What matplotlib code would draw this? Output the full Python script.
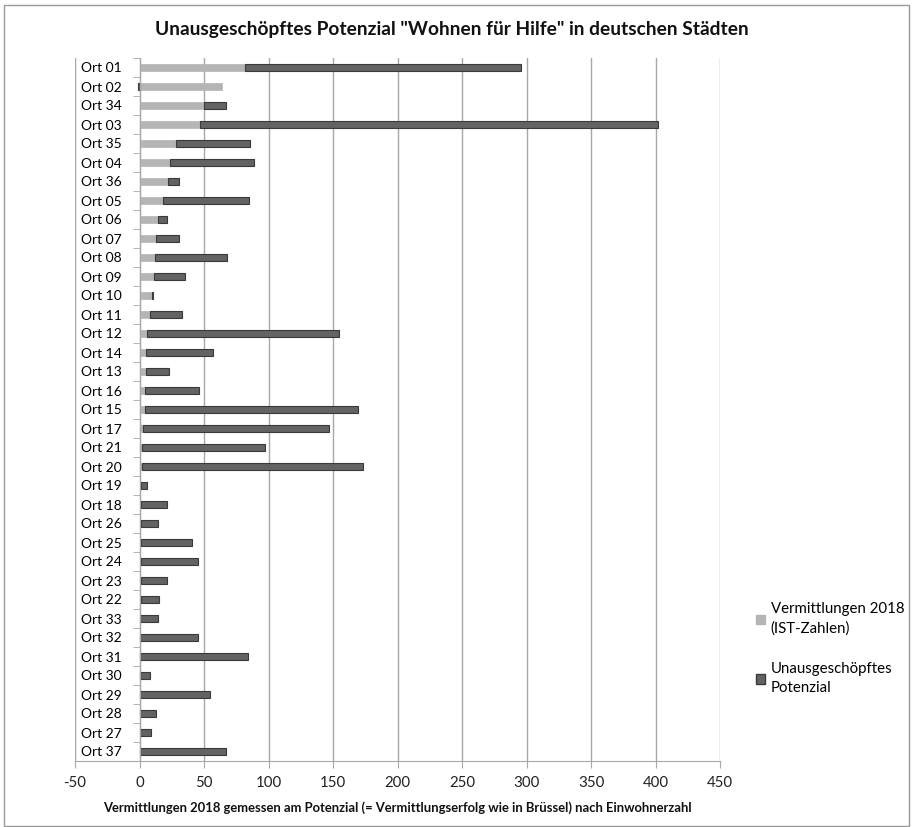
import matplotlib
matplotlib.use("Agg")
import matplotlib.pyplot as plt
from matplotlib.patches import Patch, Rectangle
from matplotlib.ticker import FixedLocator

plt.rcParams['font.family'] = ['Lato', 'DejaVu Sans']

categories = ["Ort 01", "Ort 02", "Ort 34", "Ort 03", "Ort 35", "Ort 04", "Ort 36", "Ort 05",
              "Ort 06", "Ort 07", "Ort 08", "Ort 09", "Ort 10", "Ort 11", "Ort 12", "Ort 14",
              "Ort 13", "Ort 16", "Ort 15", "Ort 17", "Ort 21", "Ort 20", "Ort 19", "Ort 18",
              "Ort 26", "Ort 25", "Ort 24", "Ort 23", "Ort 22", "Ort 33", "Ort 32", "Ort 31",
              "Ort 30", "Ort 29", "Ort 28", "Ort 27", "Ort 37"]

vermittlungen = [82, 64, 50, 47, 28, 24, 22, 18, 14, 13, 12, 11, 10, 8, 6, 5,
                 5, 4, 4, 3, 2, 2, 1.3, 1.5, 1, 1, 1, 1, 1, 0, 0, 0,
                 0, 0, 0, 0, 0]

totals = [296, 63, 67, 402, 86, 89, 31, 85, 21, 31, 68, 35, 10.3, 33, 155, 57,
          23, 46, 169, 147, 97, 173, 6, 21, 14, 41, 45, 21, 15, 14, 45, 84,
          8, 55, 13, 9, 67]

potenzial = [t - v for t, v in zip(totals, vermittlungen)]
potenzial[1] = -1.0

xticks = [-50, 0, 50, 100, 150, 200, 250, 300, 350, 400, 450]

light = "#b5b5b5"
dark = "#636363"

fig = plt.figure(figsize=(9.13, 8.27), dpi=100)
ax = fig.add_axes([75/913, 66/827, 645/913, 703/827])

ypos = list(range(len(categories)))
lefts = [v if p >= 0 else 0 for v, p in zip(vermittlungen, potenzial)]

ax.barh(ypos, vermittlungen, height=0.42, color=light, edgecolor=light, linewidth=0.5,
        label="Vermittlungen 2018\n(IST-Zahlen)", zorder=3)
ax.barh(ypos, potenzial, left=lefts, height=0.42, color=dark, edgecolor="#3a3a3a",
        linewidth=0.8, label="Unausgeschöpftes\nPotenzial", zorder=3)

ax.set_xlim(-50, 450)
ax.set_ylim(len(categories) - 0.5, -0.5)
ax.set_xticks(xticks)
ax.set_xticklabels([str(t) for t in xticks], fontsize=10.8, color="#222222")
ax.set_yticks(ypos)
ax.set_yticklabels(categories, fontsize=10.8, color="#111111")
ax.yaxis.set_minor_locator(FixedLocator([i - 0.5 for i in range(len(categories) + 1)]))

ax.grid(axis='x', color="#a8a8a8", linewidth=1.0, zorder=0)
for s in ['top', 'right']:
    ax.spines[s].set_visible(False)
ax.spines['left'].set_position(('data', 0))
ax.spines['left'].set_color("#a8a8a8")
ax.spines['bottom'].set_color("#a8a8a8")
ax.spines['left'].set_zorder(4)
ax.tick_params(axis='y', which='major', length=0, pad=13)
ax.tick_params(axis='y', which='minor', length=5, color="#a8a8a8", direction='out')
ax.tick_params(axis='x', length=5, color="#a8a8a8", pad=6)

ax.set_xlabel("Vermittlungen 2018 gemessen am Potenzial (= Vermittlungserfolg wie in Brüssel) nach Einwohnerzahl",
              fontsize=9.4, fontweight='bold', labelpad=8, color="#111111")

fig.text(452/913, 1 - 30/827, 'Unausgeschöpftes Potenzial "Wohnen für Hilfe" in deutschen Städten',
         ha='center', va='center', fontsize=13.8, fontweight='bold', color="#111111")

handles = [Patch(facecolor=light, edgecolor=light), Patch(facecolor=dark, edgecolor="#3a3a3a")]
leg = fig.legend(handles, ["Vermittlungen 2018\n(IST-Zahlen)", "Unausgeschöpftes\nPotenzial"],
                 loc='upper left', bbox_to_anchor=(742/913, 1 - 589/827), frameon=False,
                 fontsize=10.8, handlelength=0.6, handleheight=0.6, handletextpad=0.4,
                 labelspacing=1.75)
for t in leg.get_texts():
    t.set_linespacing(1.45)

fig.patches.append(Rectangle((4/913, 0.001), 905/913, 1 - 5/827 - 0.001, transform=fig.transFigure,
                             fill=False, edgecolor="#9a9a9a", linewidth=1.0))

fig.savefig("out.png", dpi=100)
